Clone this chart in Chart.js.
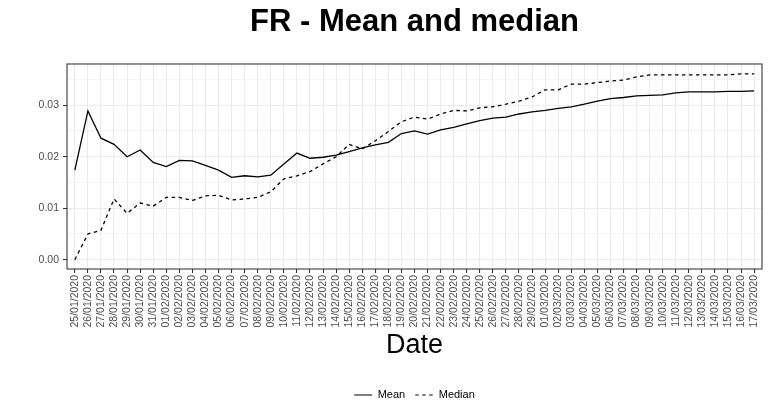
<!DOCTYPE html>
<html>
<head>
<meta charset="utf-8">
<script src="https://cdn.jsdelivr.net/npm/chart.js@4/dist/chart.umd.min.js"></script>
<style>
  html, body { margin: 0; padding: 0; background: #ffffff; }
  #wrap { width: 770px; height: 419px; }
</style>
</head>
<body>
<div id="wrap"><canvas id="c" width="770" height="419"></canvas></div>
<script>
const titleText = "FR - Mean and median";
const xTitle = "Date";
const dates = ["25/01/2020","26/01/2020","27/01/2020","28/01/2020","29/01/2020","30/01/2020","31/01/2020",
  "01/02/2020","02/02/2020","03/02/2020","04/02/2020","05/02/2020","06/02/2020","07/02/2020","08/02/2020",
  "09/02/2020","10/02/2020","11/02/2020","12/02/2020","13/02/2020","14/02/2020","15/02/2020","16/02/2020",
  "17/02/2020","18/02/2020","19/02/2020","20/02/2020","21/02/2020","22/02/2020","23/02/2020","24/02/2020",
  "25/02/2020","26/02/2020","27/02/2020","28/02/2020","29/02/2020","01/03/2020","02/03/2020","03/03/2020",
  "04/03/2020","05/03/2020","06/03/2020","07/03/2020","08/03/2020","09/03/2020","10/03/2020","11/03/2020",
  "12/03/2020","13/03/2020","14/03/2020","15/03/2020","16/03/2020","17/03/2020"];
const meanValues = [0.0174,0.0289,0.0236,0.0224,0.0200,0.0213,0.0189,0.0181,0.0193,0.0192,
  0.0183,0.0174,0.0160,0.0163,0.0161,0.0164,0.0186,0.0207,0.0197,0.0199,
  0.0203,0.0210,0.0217,0.0223,0.0228,0.0245,0.0250,0.0244,0.0252,0.0257,
  0.0264,0.0270,0.0275,0.0277,0.0283,0.0287,0.0290,0.0294,0.0297,0.0302,
  0.0308,0.0313,0.0315,0.0318,0.0319,0.0320,0.0324,0.0326,0.0326,0.0326,
  0.0327,0.0327,0.0328];
const medianValues = [0.0000,0.0050,0.0057,0.0118,0.0090,0.0110,0.0104,0.0121,0.0121,0.0115,
  0.0124,0.0125,0.0116,0.0118,0.0121,0.0132,0.0157,0.0163,0.0171,0.0186,
  0.0200,0.0224,0.0215,0.0231,0.0249,0.0268,0.0277,0.0273,0.0283,0.0290,
  0.0289,0.0295,0.0297,0.0302,0.0308,0.0316,0.0330,0.0330,0.0341,0.0341,
  0.0344,0.0347,0.0349,0.0355,0.0359,0.0359,0.0359,0.0359,0.0359,0.0359,
  0.0359,0.0361,0.0361];
const yTicks = [0, 0.005, 0.01, 0.015, 0.02, 0.025, 0.03, 0.035];
const seriesNames = ["Mean", "Median"];

const FONT = "'Liberation Sans', Arial, Helvetica, sans-serif";
const GRID = '#ebebeb';
const isMajor = v => Math.abs(Math.round(v * 100) - v * 100) < 1e-6;

const borderPlugin = {
  id: 'panelBorder',
  afterDatasetsDraw(chart) {
    const a = chart.chartArea, ctx = chart.ctx;
    ctx.save();
    ctx.strokeStyle = '#333333';
    ctx.lineWidth = 1.07;
    ctx.strokeRect(a.left, a.top, a.right - a.left, a.bottom - a.top);
    ctx.restore();
  }
};

new Chart(document.getElementById('c'), {
  type: 'line',
  data: {
    datasets: [
      { label: seriesNames[0], data: meanValues.map((v, i) => ({x: i, y: v})),
        borderColor: '#000000', borderWidth: 1.3, pointRadius: 0, tension: 0, fill: false },
      { label: seriesNames[1], data: medianValues.map((v, i) => ({x: i, y: v})),
        borderColor: '#000000', borderWidth: 1.3, borderDash: [3.5, 3.5], pointRadius: 0, tension: 0, fill: false }
    ]
  },
  options: {
    responsive: false,
    devicePixelRatio: 1,
    animation: false,
    layout: { padding: { left: 0, right: 8, top: 0, bottom: 8.5 } },
    plugins: {
      tooltip: { enabled: false },
      title: {
        display: true, text: titleText, fullSize: false, color: '#000000',
        font: { family: FONT, size: 31, weight: 'bold' },
        padding: { top: 4, bottom: 22.8 }
      },
      legend: {
        display: true, position: 'bottom', fullSize: false,
        labels: {
          usePointStyle: true, pointStyleWidth: 18, padding: 10, color: '#000000',
          font: { family: FONT, size: 11 },
          generateLabels: (chart) => chart.data.datasets.map((ds, i) => ({
            text: ds.label, fillStyle: 'rgba(0,0,0,0)', strokeStyle: '#000000',
            lineWidth: 1.2, lineDash: ds.borderDash || [], pointStyle: 'line',
            hidden: false, datasetIndex: i, fontColor: '#000000'
          }))
        }
      }
    },
    scales: {
      x: {
        type: 'linear', min: -0.6, max: dates.length - 1 + 0.6,
        afterBuildTicks: (s) => { s.ticks = dates.map((d, i) => ({ value: i })); },
        afterFit: (s) => { s.height = 110.5; },
        border: { display: false },
        grid: { color: GRID, lineWidth: 1.07, tickColor: '#333333', tickLength: 4, tickWidth: 1.07 },
        ticks: {
          autoSkip: false, minRotation: 90, maxRotation: 90, padding: 2, color: '#4d4d4d',
          font: { family: FONT, size: 10.5 },
          callback: (v) => dates[Math.round(v)]
        },
        title: { display: true, text: xTitle, color: '#000000', font: { family: FONT, size: 27 },
          padding: { top: 0, bottom: 17.3 } }
      },
      y: {
        type: 'linear', min: -0.00181, max: 0.03801,
        afterBuildTicks: (s) => { s.ticks = yTicks.map(v => ({ value: v })); },
        afterFit: (s) => { s.width = 67; },
        border: { display: false },
        grid: {
          color: GRID,
          lineWidth: (c) => (c.tick && isMajor(c.tick.value)) ? 1.07 : 0.53,
          tickColor: (c) => (c.tick && isMajor(c.tick.value)) ? '#333333' : 'rgba(0,0,0,0)',
          tickLength: 4, tickWidth: 1.07
        },
        ticks: {
          padding: 4, color: '#4d4d4d', font: { family: FONT, size: 10.5 },
          callback: (v) => isMajor(v) ? v.toFixed(2) : ''
        }
      }
    }
  },
  plugins: [borderPlugin]
});
</script>
</body>
</html>
